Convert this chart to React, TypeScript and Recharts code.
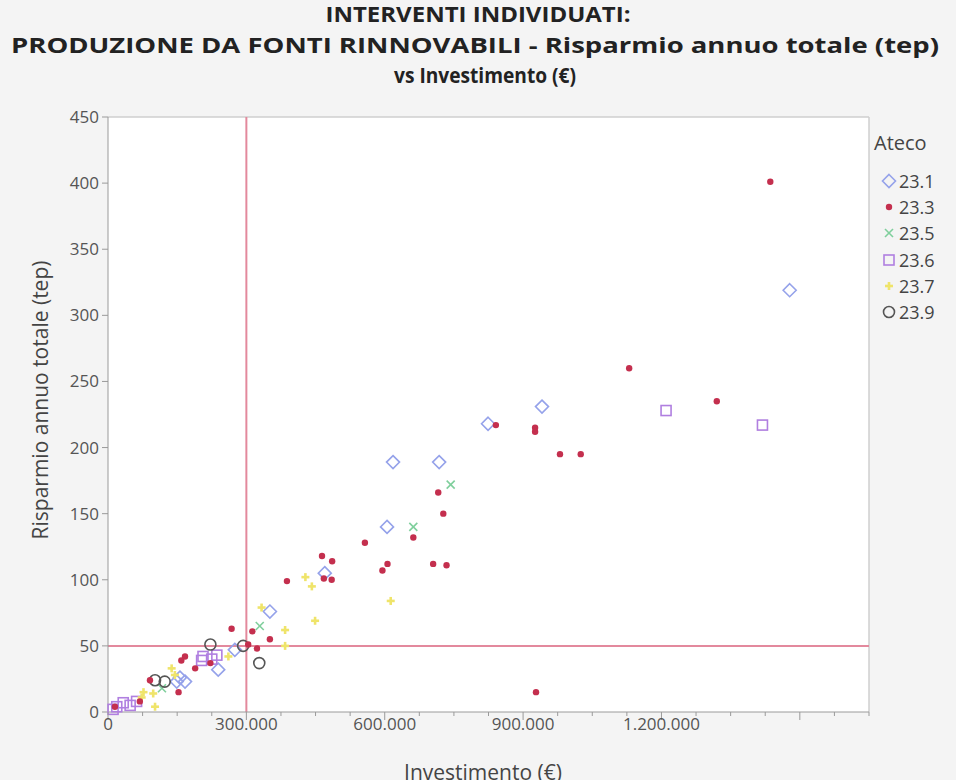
import React from 'react';
import { ScatterChart, Scatter, XAxis, YAxis, CartesianGrid, ReferenceLine } from 'recharts';

// Ateco 23.1 .. 23.9 : [investimento (€), risparmio annuo totale (tep)]
const ateco231 = [
  { x: 1478000, y: 319 }, { x: 941000, y: 231 }, { x: 824000, y: 218 }, { x: 618000, y: 189 },
  { x: 718000, y: 189 }, { x: 605000, y: 140 }, { x: 470000, y: 105 }, { x: 351000, y: 76 },
  { x: 275000, y: 47 }, { x: 239000, y: 32 }, { x: 156000, y: 26 }, { x: 167000, y: 23 },
  { x: 149000, y: 23 },
];
const ateco233 = [
  { x: 1436000, y: 401 }, { x: 1320000, y: 235 }, { x: 1130000, y: 260 }, { x: 841000, y: 217 },
  { x: 926000, y: 215 }, { x: 926000, y: 212 }, { x: 980000, y: 195 }, { x: 1025000, y: 195 },
  { x: 716000, y: 166 }, { x: 727000, y: 150 }, { x: 662000, y: 132 }, { x: 557000, y: 128 },
  { x: 464000, y: 118 }, { x: 486000, y: 114 }, { x: 606000, y: 112 }, { x: 595000, y: 107 },
  { x: 705000, y: 112 }, { x: 734000, y: 111 }, { x: 468000, y: 101 }, { x: 485000, y: 100 },
  { x: 928000, y: 15 }, { x: 388000, y: 99 }, { x: 268000, y: 63 }, { x: 313000, y: 61 },
  { x: 351000, y: 55 }, { x: 304000, y: 51 }, { x: 323000, y: 48 }, { x: 222000, y: 37 },
  { x: 167000, y: 42 }, { x: 159000, y: 39 }, { x: 189000, y: 33 }, { x: 153000, y: 15 },
  { x: 69000, y: 8 }, { x: 15000, y: 4 }, { x: 91000, y: 24 },
];
const ateco235 = [
  { x: 743000, y: 172 }, { x: 662000, y: 140 }, { x: 329000, y: 65 }, { x: 117000, y: 18 },
];
const ateco236 = [
  { x: 1210000, y: 228 }, { x: 1419000, y: 217 }, { x: 206000, y: 42 }, { x: 236000, y: 43 },
  { x: 203000, y: 39 }, { x: 225000, y: 40 }, { x: 33000, y: 7 }, { x: 48000, y: 5 },
  { x: 62000, y: 8 }, { x: 19000, y: 4 }, { x: 11000, y: 2 },
];
const ateco237 = [
  { x: 428000, y: 102 }, { x: 442000, y: 95 }, { x: 613000, y: 84 }, { x: 449000, y: 69 },
  { x: 333000, y: 79 }, { x: 384000, y: 62 }, { x: 384000, y: 50 }, { x: 261000, y: 42 },
  { x: 138000, y: 33 }, { x: 145000, y: 28 }, { x: 77000, y: 15 }, { x: 98000, y: 14 },
  { x: 73000, y: 11 }, { x: 102000, y: 4 },
];
const ateco239 = [
  { x: 222000, y: 51 }, { x: 293000, y: 50 }, { x: 328000, y: 37 }, { x: 102000, y: 24 },
  { x: 123000, y: 23 },
];

const xTicks = Array.from({ length: 23 }, (_, i) => i * 75000);
const yTicks = [0, 50, 100, 150, 200, 250, 300, 350, 400, 450];
const soglia = { x: 300000, y: 50 };

const FONT = '"Open Sans", "Noto Sans", sans-serif';

const fmt = (v: number) => String(v).replace(/\B(?=(\d{3})+(?!\d))/g, '.');

// marker shapes
const Diamond = ({ cx, cy, color }: any) => (
  <polygon points={`${cx},${cy - 6.5} ${cx + 6.5},${cy} ${cx},${cy + 6.5} ${cx - 6.5},${cy}`} fill="none" stroke={color} strokeWidth={1.6} />
);
const Dot = ({ cx, cy, color }: any) => <circle cx={cx} cy={cy} r={3.2} fill={color} />;
const Cross = ({ cx, cy, color }: any) => (
  <g stroke={color} strokeWidth={1.6}>
    <line x1={cx - 4} y1={cy - 4} x2={cx + 4} y2={cy + 4} />
    <line x1={cx - 4} y1={cy + 4} x2={cx + 4} y2={cy - 4} />
  </g>
);
const Square = ({ cx, cy, color }: any) => (
  <rect x={cx - 5} y={cy - 5} width={10} height={10} fill="none" stroke={color} strokeWidth={1.6} />
);
const Plus = ({ cx, cy, color }: any) => (
  <g stroke={color} strokeWidth={2.6}>
    <line x1={cx - 4} y1={cy} x2={cx + 4} y2={cy} />
    <line x1={cx} y1={cy - 4} x2={cx} y2={cy + 4} />
  </g>
);
const Ring = ({ cx, cy, color }: any) => <circle cx={cx} cy={cy} r={5.5} fill="none" stroke={color} strokeWidth={1.6} />;

const series = [
  { name: '23.1', data: ateco231, color: '#95a2ea', Shape: Diamond },
  { name: '23.5', data: ateco235, color: '#7fcf9c', Shape: Cross },
  { name: '23.6', data: ateco236, color: '#b07fe0', Shape: Square },
  { name: '23.7', data: ateco237, color: '#efe46a', Shape: Plus },
  { name: '23.9', data: ateco239, color: '#555555', Shape: Ring },
  { name: '23.3', data: ateco233, color: '#c42f4e', Shape: Dot },
];
const legendOrder = ['23.1', '23.3', '23.5', '23.6', '23.7', '23.9'];

const XTick = (props: any) => {
  const { x, y, payload } = props;
  const v = payload.value;
  const major = v % 300000 === 0;
  return (
    <g>
      <line x1={x} x2={x} y1={y} y2={y + (major ? 8 : 4)} stroke="#9a9a9a" />
      {major && v <= 1200000 && (
        <text x={x} y={y + 18} textAnchor="middle" fill="#555" fontSize={17} fontFamily={FONT}>
          {fmt(v)}
        </text>
      )}
    </g>
  );
};

const App: React.FC = () => {
  return (
    <div style={{ position: 'absolute', left: 0, top: 0, width: 956, height: 780, background: '#f4f4f4', overflow: 'hidden', fontFamily: FONT }}>
      <svg width={956} height={100} style={{ position: 'absolute', left: 0, top: 0 }}>
        <g fontFamily={FONT} fontWeight={700} fontSize={21} fill="#222" textAnchor="middle">
          <text x={478} y={22} textLength={305} lengthAdjust="spacingAndGlyphs">INTERVENTI INDIVIDUATI:</text>
          <text x={475} y={53} textLength={928} lengthAdjust="spacingAndGlyphs">
            PRODUZIONE DA FONTI RINNOVABILI - Risparmio annuo totale (tep)
          </text>
          <text x={485} y={83} textLength={182} lengthAdjust="spacingAndGlyphs">vs Investimento (€)</text>
        </g>
      </svg>

      <div style={{ position: 'absolute', left: 0, top: 0 }}>
        <ScatterChart width={956} height={780} margin={{ top: 117, right: 87, bottom: 38, left: 0 }}>
          <CartesianGrid horizontal={false} vertical={false} fill="#ffffff" />
          <XAxis
            type="number"
            dataKey="x"
            domain={[0, 1650000]}
            ticks={xTicks}
            interval={0}
            tickLine={false}
            tickSize={0}
            tickMargin={0}
            height={30}
            axisLine={{ stroke: '#9a9a9a' }}
            tick={<XTick />}
          />
          <YAxis
            type="number"
            dataKey="y"
            domain={[0, 450]}
            ticks={yTicks}
            interval={0}
            width={108}
            tickSize={6}
            tickMargin={3}
            axisLine={{ stroke: '#9a9a9a' }}
            tickLine={{ stroke: '#9a9a9a' }}
            tick={{ fill: '#555', fontSize: 17, fontFamily: FONT }}
          />
          <ReferenceLine y={450} stroke="#cfcfcf" strokeWidth={1.5} />
          <ReferenceLine x={1650000} stroke="#cfcfcf" strokeWidth={1.5} />
          <ReferenceLine x={soglia.x} stroke="#e3899d" strokeWidth={2} />
          <ReferenceLine y={soglia.y} stroke="#e3899d" strokeWidth={2} />
          {series.map((s) => (
            <Scatter
              key={s.name}
              name={s.name}
              data={s.data}
              isAnimationActive={false}
              shape={(p: any) => <s.Shape cx={p.cx} cy={p.cy} color={s.color} />}
            />
          ))}
        </ScatterChart>
      </div>

      <div
        style={{
          position: 'absolute', left: 40, top: 400, transform: 'translate(-50%, -50%) rotate(-90deg)',
          whiteSpace: 'nowrap', fontSize: 21, color: '#444', lineHeight: '26px',
        }}
      >
        Risparmio annuo totale (tep)
      </div>
      <div style={{ position: 'absolute', left: 483, top: 759, transform: 'translateX(-50%)', fontSize: 21, color: '#444', whiteSpace: 'nowrap', lineHeight: '26px' }}>
        Investimento (€)
      </div>

      {/* legenda */}
      <div style={{ position: 'absolute', left: 874, top: 130, fontSize: 20, color: '#444', lineHeight: '26px' }}>Ateco</div>
      {legendOrder.map((name, i) => {
        const s = series.find((d) => d.name === name)!;
        const cy = 181 + i * 26.2;
        return (
          <div key={name}>
            <svg width={16} height={16} style={{ position: 'absolute', left: 881, top: cy - 8 }}>
              <s.Shape cx={8} cy={8} color={s.color} />
            </svg>
            <div style={{ position: 'absolute', left: 899, top: cy - 12, fontSize: 18, color: '#444', lineHeight: '24px' }}>{name}</div>
          </div>
        );
      })}
    </div>
  );
};

export default App;
